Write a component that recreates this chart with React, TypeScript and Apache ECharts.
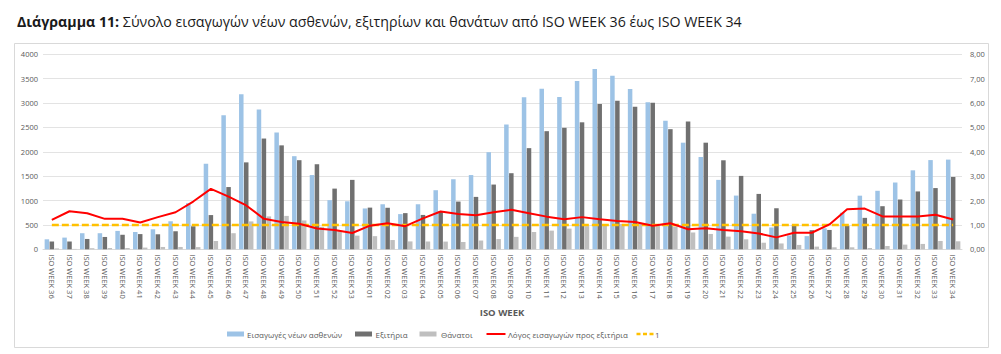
import React, { useEffect, useRef } from "react";
import * as echarts from "echarts";

const weekLabels = [
  "ISO WEEK 36", "ISO WEEK 37", "ISO WEEK 38", "ISO WEEK 39", "ISO WEEK 40", "ISO WEEK 41",
  "ISO WEEK 42", "ISO WEEK 43", "ISO WEEK 44", "ISO WEEK 45", "ISO WEEK 46", "ISO WEEK 47",
  "ISO WEEK 48", "ISO WEEK 49", "ISO WEEK 50", "ISO WEEK 51", "ISO WEEK 52", "ISO WEEK 53",
  "ISO WEEK 01", "ISO WEEK 02", "ISO WEEK 03", "ISO WEEK 04", "ISO WEEK 05", "ISO WEEK 06",
  "ISO WEEK 07", "ISO WEEK 08", "ISO WEEK 09", "ISO WEEK 10", "ISO WEEK 11", "ISO WEEK 12",
  "ISO WEEK 13", "ISO WEEK 14", "ISO WEEK 15", "ISO WEEK 16", "ISO WEEK 17", "ISO WEEK 18",
  "ISO WEEK 19", "ISO WEEK 20", "ISO WEEK 21", "ISO WEEK 22", "ISO WEEK 23", "ISO WEEK 24",
  "ISO WEEK 25", "ISO WEEK 26", "ISO WEEK 27", "ISO WEEK 28", "ISO WEEK 29", "ISO WEEK 30",
  "ISO WEEK 31", "ISO WEEK 32", "ISO WEEK 33", "ISO WEEK 34",
];

const admissions = [
  205, 240, 330, 330, 377, 355, 410, 575, 945, 1755, 2752, 3183,
  2868, 2396, 1910, 1523, 1008, 985, 838, 924, 722, 924, 1212, 1437,
  1523, 1992, 2560, 3118, 3292, 3125, 3450, 3697, 3560, 3286, 3018, 2635,
  2187, 1893, 1424, 1102, 730, 448, 285, 270, 430, 750, 1100, 1200,
  1370, 1620, 1830, 1840,
];

const discharges = [
  160, 160, 212, 253, 298, 312, 308, 370, 472, 702, 1277, 1783,
  2272, 2132, 1828, 1745, 1245, 1424, 855, 852, 742, 705, 780, 979,
  1075, 1328, 1561, 2075, 2423, 2492, 2605, 2978, 3046, 2923, 3005, 2464,
  2620, 2187, 1826, 1506, 1136, 842, 500, 392, 397, 480, 645, 884,
  1021, 1187, 1256, 1484,
];

const deaths = [
  18, 8, 22, 27, 28, 35, 48, 48, 45, 170, 330, 572,
  675, 685, 592, 460, 380, 280, 270, 190, 162, 160, 158, 150,
  180, 210, 255, 355, 383, 424, 475, 500, 520, 520, 500, 465,
  345, 315, 260, 205, 135, 120, 90, 55, 41, 41, 27, 68,
  96, 110, 171, 164,
];

const ratio = [
  1.21, 1.56, 1.48, 1.25, 1.25, 1.1, 1.32, 1.52, 1.96, 2.48, 2.16, 1.8,
  1.25, 1.12, 1.05, 0.85, 0.79, 0.67, 0.97, 1.07, 0.95, 1.27, 1.55, 1.45,
  1.4, 1.52, 1.62, 1.48, 1.34, 1.23, 1.32, 1.23, 1.16, 1.12, 0.97, 1.07,
  0.82, 0.86, 0.79, 0.74, 0.65, 0.49, 0.68, 0.68, 1.02, 1.64, 1.67, 1.35,
  1.35, 1.35, 1.42, 1.22,
];

const referenceOne = [
  1, 1, 1, 1, 1, 1, 1, 1, 1, 1, 1, 1, 1, 1, 1, 1, 1, 1, 1, 1, 1, 1, 1, 1, 1, 1,
  1, 1, 1, 1, 1, 1, 1, 1, 1, 1, 1, 1, 1, 1, 1, 1, 1, 1, 1, 1, 1, 1, 1, 1, 1, 1,
];

const seriesNames = [
  "Εισαγωγές νέων ασθενών",
  "Εξιτήρια",
  "Θάνατοι",
  "Λόγος εισαγωγών προς εξιτήρια",
  "1",
];

const COLORS = ["#9DC3E6", "#707070", "#BFBFBF", "#FF0000", "#FFC000"];

const FONT = "'Open Sans', 'Noto Sans', sans-serif";
const GREY_TEXT = "#595959";

function legendGraphics() {
  const y = 334;
  const items: any[] = [];
  const iconX = [227, 355, 419.5, 486.5, 636.5];
  const textX = [247, 375.5, 441, 508, 655];
  for (let i = 0; i < 5; i++) {
    if (i < 3) {
      items.push({
        type: "rect",
        shape: { x: iconX[i], y: y - 2.5, width: 17, height: 5 },
        style: { fill: COLORS[i] },
        silent: true,
      });
    } else {
      items.push({
        type: "line",
        shape: { x1: iconX[i], y1: y, x2: iconX[i] + (i === 3 ? 19 : 17), y2: y },
        style: {
          stroke: COLORS[i],
          lineWidth: i === 3 ? 2 : 2.5,
          lineDash: i === 4 ? [4, 2.5] : null,
        },
        silent: true,
      });
    }
    items.push({
      type: "text",
      x: textX[i],
      y,
      style: {
        text: seriesNames[i],
        fontFamily: FONT,
        fontSize: 8,
        fill: GREY_TEXT,
        align: "left",
        verticalAlign: "middle",
      },
      silent: true,
    });
  }
  return items;
}

export default function App() {
  const ref = useRef<HTMLDivElement>(null);
  useEffect(() => {
    if (!ref.current) return;
    const chart = echarts.init(ref.current, undefined, { renderer: "svg" });
    chart.setOption({
      animation: false,
      backgroundColor: "#ffffff",
      textStyle: { fontFamily: FONT },
      title: {
        left: 12,
        top: 9,
        text: "{b|Διάγραμμα 11:} Σύνολο εισαγωγών νέων ασθενών, εξιτηρίων και θανάτων από ISO WEEK 36 έως ISO WEEK 34",
        textStyle: {
          fontFamily: FONT,
          fontSize: 14.2,
          fontWeight: "normal",
          color: "#1a1a1a",
          rich: {
            b: { fontFamily: FONT, fontSize: 14.2, fontWeight: "bold", color: "#1a1a1a" },
          },
        },
      },
      graphic: [
        {
          type: "rect",
          shape: { x: 14.5, y: 43.5, width: 974, height: 304 },
          style: { fill: "none", stroke: "#D9D9D9", lineWidth: 1 },
          silent: true,
        },
        {
          type: "text",
          x: 502,
          y: 312,
          style: {
            text: "ISO WEEK",
            fontFamily: FONT,
            fontSize: 9.5,
            fontWeight: "bold",
            fill: GREY_TEXT,
            align: "center",
            verticalAlign: "middle",
          },
        },
        ...legendGraphics(),
      ],
      grid: { left: 43, right: 39, top: 54.3, bottom: 104.7, containLabel: false },
      xAxis: {
        type: "category",
        data: weekLabels,
        axisLine: { show: true, lineStyle: { color: "#D9D9D9" } },
        axisTick: { show: false },
        axisLabel: {
          rotate: -90,
          interval: 0,
          fontFamily: FONT,
          fontSize: 7.5,
          color: GREY_TEXT,
          margin: 5,
        },
      },
      yAxis: [
        {
          type: "value",
          min: 0,
          max: 4000,
          interval: 500,
          axisLine: { show: false },
          axisTick: { show: false },
          splitLine: { lineStyle: { color: "#E3E3E3", width: 1 } },
          axisLabel: {
            fontFamily: FONT,
            fontSize: 7.5,
            color: GREY_TEXT,
            margin: 5,
            formatter: (v: number) => String(v),
          },
        },
        {
          type: "value",
          min: 0,
          max: 8,
          interval: 1,
          position: "right",
          axisLine: { show: false },
          axisTick: { show: false },
          splitLine: { show: false },
          axisLabel: {
            fontFamily: FONT,
            fontSize: 7.5,
            color: GREY_TEXT,
            margin: 8,
            formatter: (v: number) => v.toFixed(2).replace(".", ","),
          },
        },
      ],
      series: [
        {
          name: seriesNames[0],
          type: "bar",
          data: admissions,
          barWidth: 4.5,
          barGap: "10%",
          itemStyle: { color: COLORS[0] },
        },
        {
          name: seriesNames[1],
          type: "bar",
          data: discharges,
          barWidth: 4.5,
          barGap: "10%",
          itemStyle: { color: COLORS[1] },
        },
        {
          name: seriesNames[2],
          type: "bar",
          data: deaths,
          barWidth: 4.5,
          barGap: "10%",
          itemStyle: { color: COLORS[2] },
        },
        {
          name: seriesNames[3],
          type: "line",
          yAxisIndex: 1,
          data: ratio,
          symbol: "none",
          lineStyle: { color: COLORS[3], width: 2 },
          itemStyle: { color: COLORS[3] },
          z: 5,
        },
        {
          name: seriesNames[4],
          type: "line",
          yAxisIndex: 1,
          data: referenceOne,
          symbol: "none",
          lineStyle: { color: COLORS[4], width: 2.5, type: [7, 3] },
          itemStyle: { color: COLORS[4] },
          z: 4,
        },
      ],
    });
    return () => chart.dispose();
  }, []);
  return (
    <div
      ref={ref}
      style={{ position: "absolute", left: 0, top: 0, width: 1001, height: 354 }}
    />
  );
}
